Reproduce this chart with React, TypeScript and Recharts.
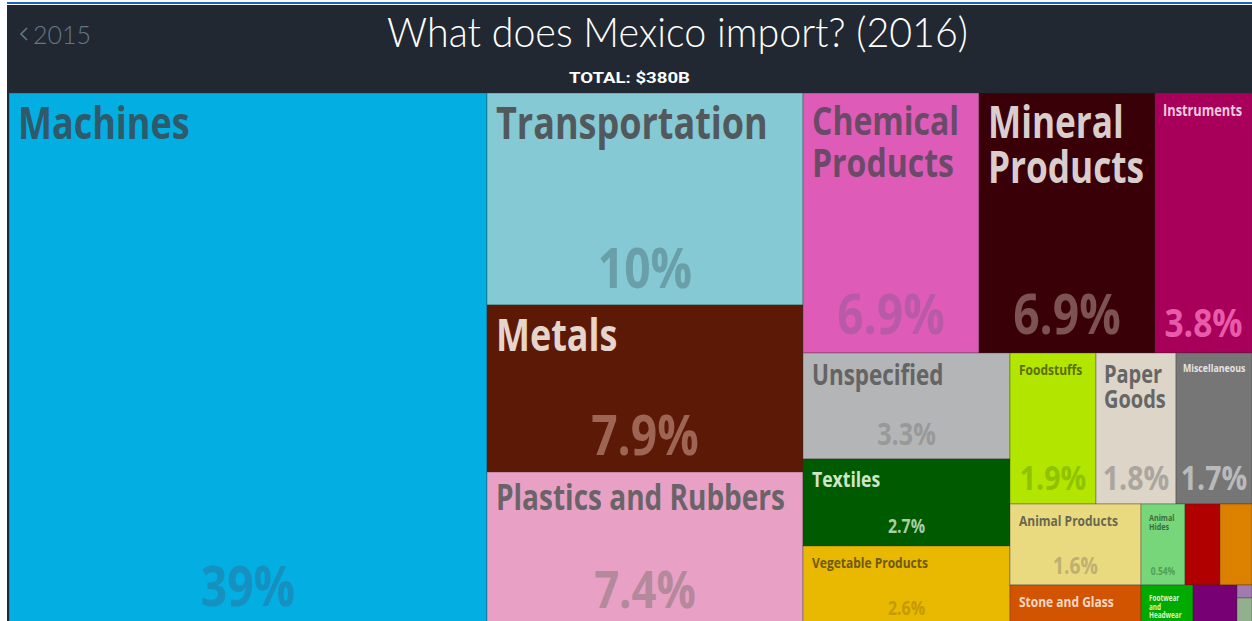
import React from "react";
import { Treemap } from "recharts";

// ---- data ----
const categories = [
  "Machines",
  "Transportation",
  "Metals",
  "Plastics and Rubbers",
  "Chemical Products",
  "Mineral Products",
  "Instruments",
  "Unspecified",
  "Textiles",
  "Vegetable Products",
  "Foodstuffs",
  "Paper Goods",
  "Miscellaneous",
  "Animal Products",
  "Stone and Glass",
  "Animal Hides",
  "Precious Metals",
  "Wood Products",
  "Footwear and Headwear",
  "Weapons",
  "Arts and Antiques",
  "Animal and Vegetable Bi-Products",
];
// share of total imports, in percent
const shares = [
  38.54, 10.04, 7.94, 7.44, 6.86, 6.86, 3.76, 3.3, 2.7, 2.6, 1.94, 1.81, 1.72,
  1.6, 0.88, 0.54, 0.43, 0.38, 0.35, 0.3, 0.03, 0.11,
];
const titleText = "What does Mexico import? (2016)";
const prevYear = "2015";
const totalText = "TOTAL: $380B";

const data = categories.map((name, i) => ({ name, share: shares[i] }));

// ---- styles ----
type St = {
  fill: string;
  lines?: string[];
  size?: number;
  lh?: number;
  color?: string;
  pct?: number;
  pctColor?: string;
  pctOff?: number;
  pad?: number;
};
const styles: Record<string, St> = {
  Machines: { fill: "#03aee2", lines: ["Machines"], size: 45, color: "#2e5a6a", pct: 55, pctColor: "#1690bf", pctOff: 24 },
  Transportation: { fill: "#84c9d4", lines: ["Transportation"], size: 45, color: "#52595c", pct: 55, pctColor: "#6a9ea8", pctOff: 17 },
  Metals: { fill: "#5c1a06", lines: ["Metals"], size: 45, color: "#e5d5cd", pct: 55, pctColor: "#9e6555", pctOff: 17 },
  "Plastics and Rubbers": { fill: "#e8a1c5", lines: ["Plastics and Rubbers"], size: 35, color: "#6a6468", pct: 52, pctColor: "#b4899c", pctOff: 22 },
  "Chemical Products": { fill: "#de5cb8", lines: ["Chemical", "Products"], size: 40, lh: 42, color: "#6b4a68", pct: 55, pctColor: "#b95aa8", pctOff: 19 },
  "Mineral Products": { fill: "#3a0008", lines: ["Mineral", "Products"], size: 44, lh: 45, color: "#dacdcd", pct: 55, pctColor: "#7c5252", pctOff: 19 },
  Instruments: { fill: "#a8005a", lines: ["Instruments"], size: 16, color: "#f0c8dc", pct: 40, pctColor: "#e85aaa", pctOff: 16, pad: 8 },
  Unspecified: { fill: "#b4b5b7", lines: ["Unspecified"], size: 28, color: "#646464", pct: 30, pctColor: "#999999", pctOff: 14 },
  Textiles: { fill: "#005a00", lines: ["Textiles"], size: 22, color: "#cfe6c5", pct: 19, pctColor: "#a9cfa0", pctOff: 13 },
  "Vegetable Products": { fill: "#e9b800", lines: ["Vegetable Products"], size: 15, color: "#6e5a10", pct: 19, pctColor: "#c49a00", pctOff: 15 },
  Foodstuffs: { fill: "#b2e600", lines: ["Foodstuffs"], size: 15, color: "#5b6e00", pct: 34, pctColor: "#90c200", pctOff: 14 },
  "Paper Goods": { fill: "#dcd5c8", lines: ["Paper", "Goods"], size: 25, lh: 25, color: "#666666", pct: 34, pctColor: "#aaa69f", pctOff: 14, pad: 8 },
  Miscellaneous: { fill: "#767676", lines: ["Miscellaneous"], size: 11, color: "#e4e4e4", pct: 34, pctColor: "#bababa", pctOff: 14, pad: 7 },
  "Animal Products": { fill: "#e9da80", lines: ["Animal Products"], size: 15, color: "#6a6650", pct: 23, pctColor: "#bfb070", pctOff: 11 },
  "Stone and Glass": { fill: "#d35400", lines: ["Stone and Glass"], size: 15, color: "#f6d8c8" },
  "Animal Hides": { fill: "#78d67a", lines: ["Animal", "Hides"], size: 9, lh: 9, color: "#3d6b3d", pct: 10, pctColor: "#4f9f52", pctOff: 10, pad: 8 },
  "Precious Metals": { fill: "#b10000" },
  "Wood Products": { fill: "#dc8000" },
  "Footwear and Headwear": { fill: "#00aa00", lines: ["Footwear", "and", "Headwear"], size: 8, lh: 8.5, color: "#d8f5d0", pad: 8 },
  Weapons: { fill: "#770075" },
  "Arts and Antiques": { fill: "#a07ab0" },
  "Animal and Vegetable Bi-Products": { fill: "#93b08e" },
};

const FONT = '"Open Sans", "Noto Sans", sans-serif';
const LABEL_SX = 0.8;
const PCT_SX = 0.84;

function Cell(props: any) {
  const { x, y, width, height, depth, name, value } = props;
  if (depth !== 1 || !name) return <g />;
  const st = styles[name] || { fill: "#999" };
  const pad = st.pad ?? 9;
  const size = st.size ?? 12;
  const lh = st.lh ?? size;
  const pctText = Number(value).toPrecision(2) + "%";
  return (
    <g>
      <rect x={x} y={y} width={width} height={height} fill={st.fill} stroke="rgba(40,40,40,0.35)" strokeWidth={1} />
      {st.lines &&
        st.lines.map((ln, i) => (
          <text
            key={i}
            transform={`translate(${x + pad},${y + 10 + size * 0.8 + i * lh}) scale(${LABEL_SX},1)`}
            x={0}
            y={0}
            fontSize={size}
            fontWeight="bold"
            fontFamily={FONT}
            fill={st.color}
          >
            {ln}
          </text>
        ))}
      {st.pct ? (
        <text
          transform={`translate(${x + width / 2},${y + height - (st.pctOff ?? 12)}) scale(${PCT_SX},1)`}
          x={0}
          y={0}
          fontSize={st.pct}
          fontWeight="bold"
          fontFamily={FONT}
          fill={st.pctColor}
          textAnchor="middle"
        >
          {pctText}
        </text>
      ) : null}
    </g>
  );
}

export default function App() {
  return (
    <div style={{ position: "absolute", left: 0, top: 0, width: 1252, height: 621, overflow: "hidden", background: "#ffffff" }}>
      <div style={{ position: "absolute", left: 7, top: 2, width: 1245, height: 2, background: "#1b63c6" }} />
      <div style={{ position: "absolute", left: 7, top: 5, width: 1245, height: 640, background: "#212831" }} />
      <svg style={{ position: "absolute", left: 0, top: 0 }} width={1252} height={93}>
        <path d="M27 28 L21 34 L27 40" stroke="#62788a" strokeWidth={1.6} fill="none" />
        <text x={33} y={44} fontSize={26} fontFamily="Lato, 'Open Sans', sans-serif" fontWeight={300} fill="#62788a" textLength={58} lengthAdjust="spacingAndGlyphs">
          {prevYear}
        </text>
        <text x={387} y={47} fontSize={42} fontFamily="Lato, 'Open Sans', sans-serif" fontWeight={300} fill="#ffffff" textLength={581} lengthAdjust="spacingAndGlyphs">
          {titleText}
        </text>
        <text x={569} y={83} fontSize={14} fontFamily="Roboto, 'DejaVu Sans', sans-serif" fontWeight="bold" fill="#ffffff" textLength={121} lengthAdjust="spacingAndGlyphs">
          {totalText}
        </text>
      </svg>
      <div style={{ position: "absolute", left: 9, top: 93 }}>
        <Treemap
          width={1243}
          height={537}
          data={data}
          dataKey="share"
          nameKey="name"
          isAnimationActive={false}
          content={<Cell />}
        />
      </div>
    </div>
  );
}
